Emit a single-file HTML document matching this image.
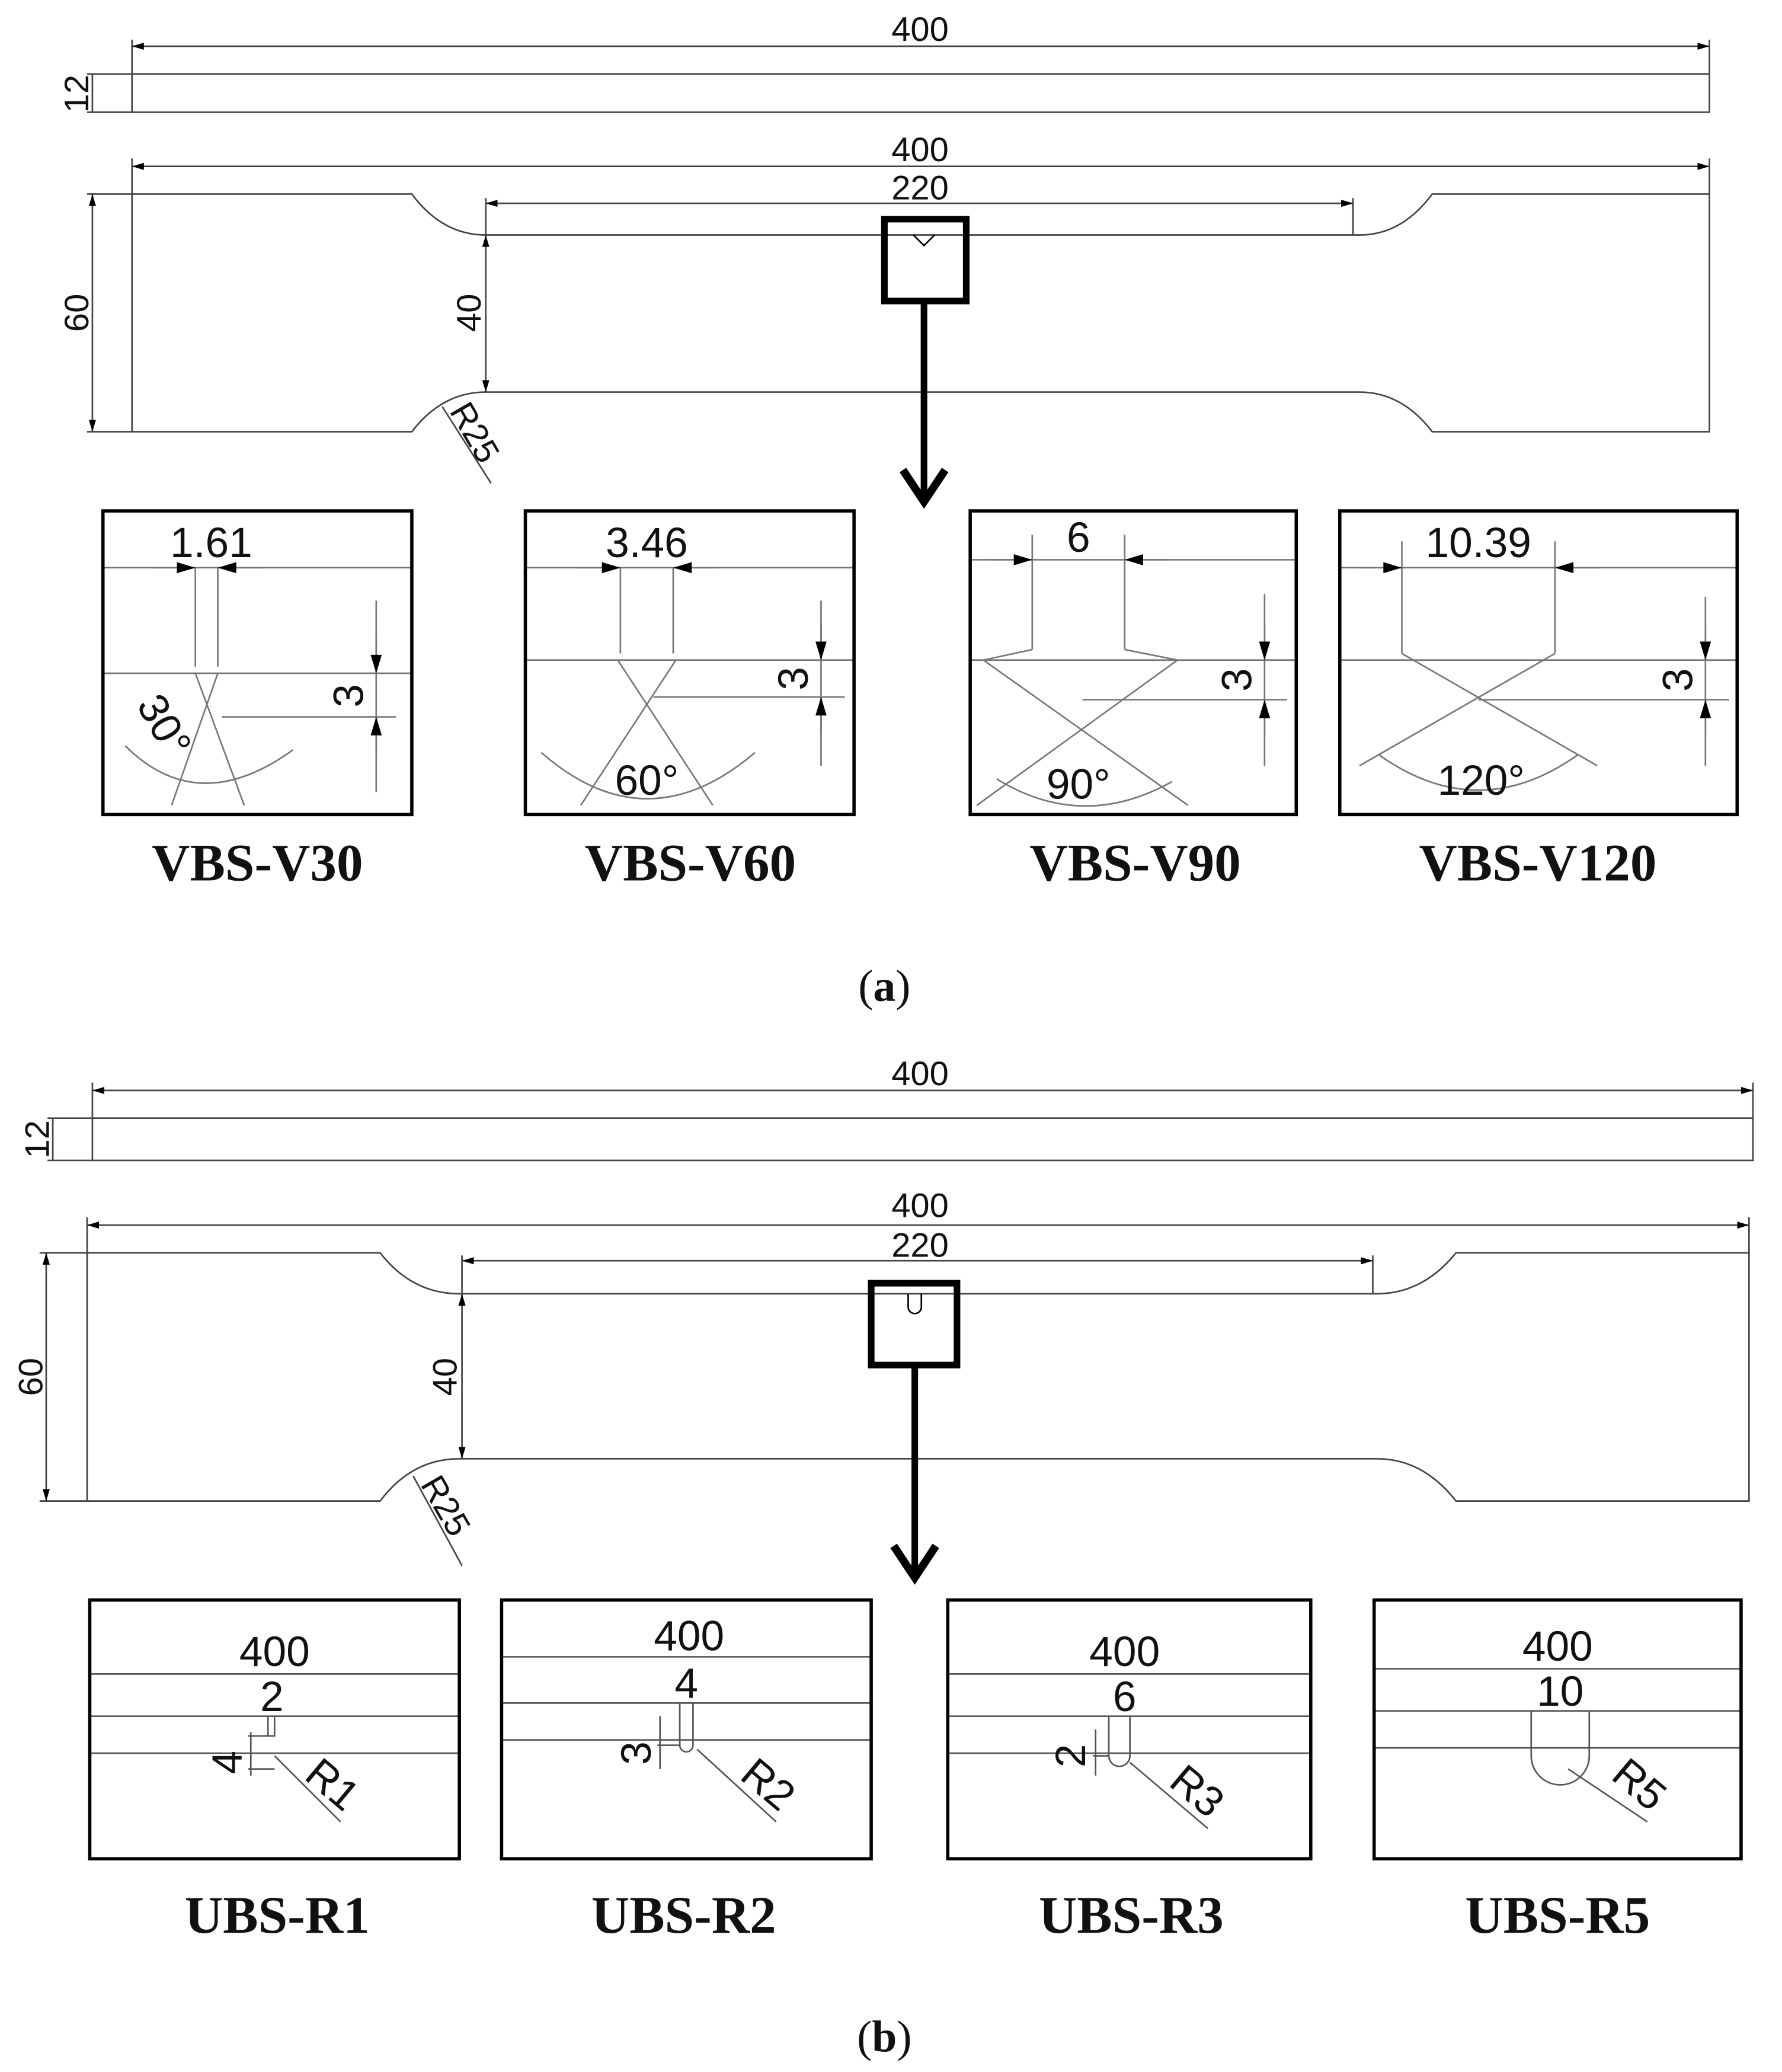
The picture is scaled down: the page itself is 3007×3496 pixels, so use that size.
<!DOCTYPE html>
<html><head><meta charset="utf-8"><style>html,body{margin:0;padding:0;background:#fff}svg{display:block}</style></head><body>
<svg width="3007" height="3496" viewBox="0 0 1350 1569.5" xmlns="http://www.w3.org/2000/svg">
<defs>
<marker id="a" viewBox="0 0 10 10" refX="10" refY="5" markerWidth="9" markerHeight="9" markerUnits="userSpaceOnUse" orient="auto-start-reverse"><path d="M0,2L10,5L0,8z" fill="#000"/></marker>
<marker id="c" viewBox="0 0 10 10" refX="10" refY="5" markerWidth="18" markerHeight="14" markerUnits="userSpaceOnUse" orient="auto-start-reverse"><path d="M0,2L10,5L0,8z" fill="#000"/></marker>
<marker id="b" viewBox="0 0 10 10" refX="9" refY="5" markerWidth="32" markerHeight="36" markerUnits="userSpaceOnUse" orient="auto-start-reverse"><path d="M0,0L9,5L0,10" fill="none" stroke="#000" stroke-width="1.6"/></marker>
</defs>
<g fill="none" stroke="#444" stroke-width="1.2">
<rect x="100" y="56" width="1195" height="29"/>
<line x1="100" y1="30" x2="100" y2="56"/><line x1="1295" y1="30" x2="1295" y2="56"/>
<line x1="100" y1="35" x2="1295" y2="35" marker-start="url(#a)" marker-end="url(#a)"/>
<line x1="66" y1="56" x2="100" y2="56"/><line x1="66" y1="85" x2="100" y2="85"/>
<line x1="70" y1="56" x2="70" y2="85"/>
<path d="M100,147 H312 Q335,178 368,178 H1030 Q1062,178 1085,147 H1295 V327 H1085 Q1062,297 1030,297 H368 Q335,297 312,327 H100 Z"/>
<line x1="100" y1="120" x2="100" y2="147"/><line x1="1295" y1="120" x2="1295" y2="147"/>
<line x1="100" y1="126" x2="1295" y2="126" marker-start="url(#a)" marker-end="url(#a)"/>
<line x1="368" y1="150" x2="368" y2="178"/><line x1="1025" y1="150" x2="1025" y2="178"/>
<line x1="368" y1="154" x2="1025" y2="154" marker-start="url(#a)" marker-end="url(#a)"/>
<line x1="66" y1="147" x2="100" y2="147"/><line x1="66" y1="327" x2="100" y2="327"/>
<line x1="70" y1="147" x2="70" y2="327" marker-start="url(#a)" marker-end="url(#a)"/>
<line x1="368" y1="178" x2="368" y2="297" marker-start="url(#a)" marker-end="url(#a)"/>
<line x1="335" y1="308" x2="372" y2="366"/>
<rect x="70" y="847" width="1258" height="32"/>
<line x1="70" y1="820" x2="70" y2="847"/><line x1="1328" y1="820" x2="1328" y2="847"/>
<line x1="70" y1="826" x2="1328" y2="826" marker-start="url(#a)" marker-end="url(#a)"/>
<line x1="36" y1="847" x2="70" y2="847"/><line x1="36" y1="879" x2="70" y2="879"/>
<line x1="40" y1="847" x2="40" y2="879"/>
<path d="M66,949 H288 Q312,980 348,980 H1043 Q1078,980 1103,949 H1325 V1137 H1103 Q1078,1105 1043,1105 H348 Q312,1105 288,1137 H66 Z"/>
<line x1="66" y1="922" x2="66" y2="949"/><line x1="1325" y1="922" x2="1325" y2="949"/>
<line x1="66" y1="928" x2="1325" y2="928" marker-start="url(#a)" marker-end="url(#a)"/>
<line x1="350" y1="951" x2="350" y2="980"/><line x1="1040" y1="951" x2="1040" y2="980"/>
<line x1="350" y1="955" x2="1040" y2="955" marker-start="url(#a)" marker-end="url(#a)"/>
<line x1="30" y1="949" x2="66" y2="949"/><line x1="30" y1="1137" x2="66" y2="1137"/>
<line x1="35" y1="949" x2="35" y2="1137" marker-start="url(#a)" marker-end="url(#a)"/>
<line x1="350" y1="980" x2="350" y2="1105" marker-start="url(#a)" marker-end="url(#a)"/>
<line x1="313" y1="1118" x2="350" y2="1186"/>

<g stroke="#777">
<line x1="78" y1="430" x2="312" y2="430"/><line x1="78" y1="510" x2="312" y2="510"/>
<line x1="148" y1="430" x2="148" y2="505"/><line x1="165" y1="430" x2="165" y2="505"/>
<line x1="115" y1="430" x2="148" y2="430" marker-end="url(#c)"/><line x1="200" y1="430" x2="165" y2="430" marker-end="url(#c)"/>
<line x1="148" y1="510" x2="185" y2="610"/><line x1="165" y1="510" x2="130" y2="610"/>
<line x1="168" y1="543" x2="300" y2="543"/><line x1="285" y1="455" x2="285" y2="600"/>
<line x1="285" y1="482" x2="285" y2="510" marker-end="url(#c)"/><line x1="285" y1="572" x2="285" y2="543" marker-end="url(#c)"/>
<path d="M95,565 Q150,620 222,568"/>
<line x1="398" y1="430" x2="647" y2="430"/><line x1="398" y1="500" x2="647" y2="500"/>
<line x1="470" y1="430" x2="470" y2="495"/><line x1="510" y1="430" x2="510" y2="495"/>
<line x1="438" y1="430" x2="470" y2="430" marker-end="url(#c)"/><line x1="542" y1="430" x2="510" y2="430" marker-end="url(#c)"/>
<line x1="468" y1="500" x2="540" y2="610"/><line x1="512" y1="500" x2="440" y2="610"/>
<line x1="495" y1="528" x2="640" y2="528"/><line x1="622" y1="455" x2="622" y2="580"/>
<line x1="622" y1="473" x2="622" y2="500" marker-end="url(#c)"/><line x1="622" y1="555" x2="622" y2="528" marker-end="url(#c)"/>
<path d="M410,570 Q490,640 572,570"/>
<line x1="735" y1="424" x2="982" y2="424"/><line x1="735" y1="500" x2="982" y2="500"/>
<line x1="782" y1="405" x2="782" y2="492"/><line x1="852" y1="405" x2="852" y2="492"/>
<line x1="750" y1="424" x2="782" y2="424" marker-end="url(#c)"/><line x1="884" y1="424" x2="852" y2="424" marker-end="url(#c)"/>
<line x1="782" y1="492" x2="745" y2="500"/><line x1="852" y1="492" x2="892" y2="500"/>
<line x1="745" y1="500" x2="900" y2="610"/><line x1="892" y1="500" x2="740" y2="610"/>
<line x1="820" y1="530" x2="975" y2="530"/><line x1="958" y1="450" x2="958" y2="580"/>
<line x1="958" y1="473" x2="958" y2="500" marker-end="url(#c)"/><line x1="958" y1="557" x2="958" y2="530" marker-end="url(#c)"/>
<path d="M755,590 Q820,630 888,592"/>
<line x1="1015" y1="430" x2="1316" y2="430"/><line x1="1015" y1="500" x2="1316" y2="500"/>
<line x1="1062" y1="410" x2="1062" y2="495"/><line x1="1178" y1="410" x2="1178" y2="495"/>
<line x1="1030" y1="430" x2="1062" y2="430" marker-end="url(#c)"/><line x1="1210" y1="430" x2="1178" y2="430" marker-end="url(#c)"/>
<line x1="1062" y1="495" x2="1210" y2="580"/><line x1="1178" y1="495" x2="1030" y2="580"/>
<line x1="1120" y1="530" x2="1310" y2="530"/><line x1="1292" y1="452" x2="1292" y2="580"/>
<line x1="1292" y1="473" x2="1292" y2="500" marker-end="url(#c)"/><line x1="1292" y1="557" x2="1292" y2="530" marker-end="url(#c)"/>
<path d="M1045,572 Q1120,625 1195,572"/>
</g>
<g stroke="#555">
<line x1="68" y1="1268" x2="348" y2="1268"/><line x1="68" y1="1300" x2="348" y2="1300"/><line x1="68" y1="1328" x2="348" y2="1328"/>
<path d="M203,1300 V1315 H208 V1300"/><line x1="188" y1="1315" x2="203" y2="1315"/><line x1="188" y1="1340" x2="208" y2="1340"/>
<line x1="190" y1="1312" x2="190" y2="1345"/><line x1="208" y1="1330" x2="258" y2="1380"/>
<line x1="380" y1="1255" x2="660" y2="1255"/><line x1="380" y1="1290" x2="660" y2="1290"/><line x1="380" y1="1318" x2="660" y2="1318"/>
<path d="M515,1290 V1322 A5,5 0 0 0 525,1322 V1290"/><line x1="498" y1="1322" x2="515" y2="1322"/>
<line x1="500" y1="1300" x2="500" y2="1340"/><line x1="528" y1="1325" x2="588" y2="1380"/>
<line x1="718" y1="1268" x2="993" y2="1268"/><line x1="718" y1="1300" x2="993" y2="1300"/><line x1="718" y1="1328" x2="993" y2="1328"/>
<path d="M840,1300 V1330 A8,8 0 0 0 856,1330 V1300"/><line x1="828" y1="1330" x2="840" y2="1330"/>
<line x1="830" y1="1310" x2="830" y2="1345"/><line x1="856" y1="1335" x2="915" y2="1385"/>
<line x1="1041" y1="1264" x2="1319" y2="1264"/><line x1="1041" y1="1296" x2="1319" y2="1296"/><line x1="1041" y1="1324" x2="1319" y2="1324"/>
<path d="M1160,1296 V1330 A22,22 0 0 0 1204,1330 V1296"/><line x1="1188" y1="1340" x2="1248" y2="1380"/>
</g>
</g>
<g fill="none" stroke="#000">
<rect x="670" y="166" width="62" height="62" stroke-width="5"/>
<path d="M692,178 L700,186 L708,178" stroke-width="1.2"/>
<line x1="700" y1="228" x2="700" y2="380" stroke-width="5"/>
<path d="M684,356 L700,380 L716,356" stroke-width="6" stroke-linejoin="miter"/>
<rect x="660" y="972" width="65" height="62" stroke-width="5"/>
<path d="M688,980 V990 A5,5 0 0 0 698,990 V980" stroke-width="1.2"/>
<line x1="693" y1="1034" x2="693" y2="1195" stroke-width="5"/>
<path d="M677,1171 L693,1195 L709,1171" stroke-width="6" stroke-linejoin="miter"/>
<g stroke-width="2.5">
<rect x="78" y="387" width="234" height="230"/><rect x="398" y="387" width="249" height="230"/>
<rect x="735" y="387" width="247" height="230"/><rect x="1015" y="387" width="301" height="230"/>
<rect x="68" y="1212" width="280" height="196"/><rect x="380" y="1212" width="280" height="196"/>
<rect x="718" y="1212" width="275" height="196"/><rect x="1041" y="1212" width="278" height="196"/>
</g></g>
<g font-family="Liberation Sans, sans-serif" font-size="26" fill="#111" text-anchor="middle">
<text x="697" y="31">400</text><text x="697" y="122">400</text><text x="697" y="151">220</text>
<text transform="translate(67,71) rotate(-90)">12</text>
<text transform="translate(67,237) rotate(-90)">60</text>
<text transform="translate(364,237) rotate(-90)">40</text>
<text transform="translate(352,332) rotate(60)">R25</text>
<text x="697" y="822">400</text><text x="697" y="922">400</text><text x="697" y="952">220</text>
<text transform="translate(37,863) rotate(-90)">12</text>
<text transform="translate(32,1043) rotate(-90)">60</text>
<text transform="translate(346,1043) rotate(-90)">40</text>
<text transform="translate(330,1145) rotate(60)">R25</text>
<g font-size="32">
<text x="160" y="422">1.61</text><text x="490" y="422">3.46</text><text x="817" y="418">6</text><text x="1120" y="422">10.39</text>
<text transform="translate(275,527) rotate(-90)">3</text><text transform="translate(612,514) rotate(-90)">3</text>
<text transform="translate(948,515) rotate(-90)">3</text><text transform="translate(1282,515) rotate(-90)">3</text>
<text transform="translate(115,555) rotate(60)">30°</text><text x="490" y="602">60°</text><text x="817" y="605">90°</text><text x="1122" y="602">120°</text>
<text x="208" y="1262">400</text><text x="522" y="1250">400</text><text x="852" y="1262">400</text><text x="1180" y="1258">400</text>
<text x="206" y="1296">2</text><text x="520" y="1286">4</text><text x="852" y="1296">6</text><text x="1182" y="1292">10</text>
<text transform="translate(183,1335) rotate(-90)">4</text><text transform="translate(493,1328) rotate(-90)">3</text><text transform="translate(822,1330) rotate(-90)">2</text>
<text transform="translate(245,1360) rotate(40)">R1</text><text transform="translate(575,1360) rotate(40)">R2</text><text transform="translate(900,1365) rotate(40)">R3</text><text transform="translate(1235,1360) rotate(40)">R5</text>
</g></g>
<g font-family="Liberation Serif, serif" font-weight="bold" font-size="40" fill="#111" text-anchor="middle">
<text x="195" y="667">VBS-V30</text><text x="523" y="667">VBS-V60</text><text x="860" y="667">VBS-V90</text><text x="1165" y="667">VBS-V120</text>
<text x="210" y="1464">UBS-R1</text><text x="518" y="1464">UBS-R2</text><text x="857" y="1464">UBS-R3</text><text x="1180" y="1464">UBS-R5</text>
</g>
<g font-family="Liberation Serif, serif" font-size="34" fill="#111" text-anchor="middle">
<text x="670" y="758">(<tspan font-weight="bold">a</tspan>)</text>
<text x="670" y="1554">(<tspan font-weight="bold">b</tspan>)</text>
</g>
</svg>
</body></html>
